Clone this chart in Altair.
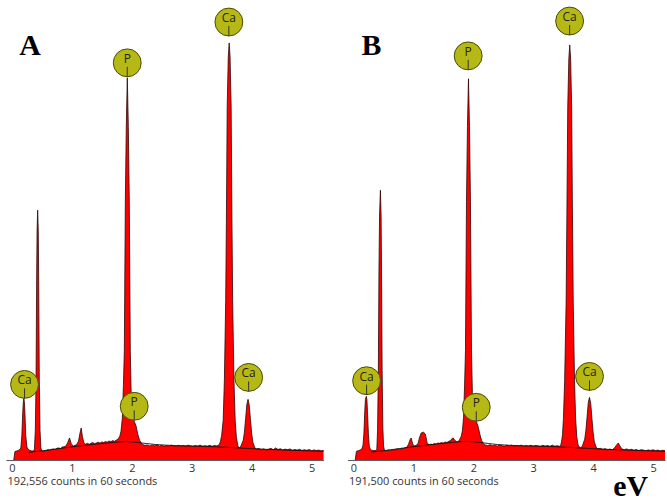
import altair as alt
import pandas as pd

# EDS spectra: (energy in keV, counts per channel)
spectrum_a = [
    (0.03, 0), (0.05, 85), (0.08, 92), (0.11, 98), (0.14, 110),
    (0.15, 130), (0.165, 250), (0.18, 480), (0.19, 590), (0.198, 620), (0.206, 590), (0.216, 480),
    (0.23, 250), (0.25, 130), (0.27, 108),
    (0.30, 96), (0.33, 92), (0.36, 90), (0.375, 110), (0.39, 300), (0.402, 800), (0.412, 1800),
    (0.419, 2300), (0.429, 2510), (0.439, 2300), (0.446, 1800), (0.456, 800), (0.468, 300),
    (0.483, 120), (0.50, 90), (0.52, 88),
    (0.54, 92), (0.57, 96), (0.60, 104), (0.63, 99), (0.66, 108), (0.69, 112), (0.72, 106),
    (0.75, 118), (0.78, 122), (0.81, 116), (0.84, 130), (0.87, 134), (0.90, 142), (0.93, 175),
    (0.96, 222), (0.99, 165), (1.02, 140), (1.05, 148), (1.08, 156), (1.11, 190), (1.135, 270),
    (1.155, 322), (1.175, 240), (1.20, 172), (1.23, 160), (1.26, 168), (1.29, 158), (1.32, 170),
    (1.35, 176), (1.38, 164), (1.41, 172), (1.44, 180), (1.47, 170), (1.50, 182), (1.53, 176),
    (1.56, 186), (1.59, 180), (1.62, 192), (1.65, 184), (1.68, 196), (1.71, 188), (1.74, 200),
    (1.77, 210), (1.80, 240), (1.82, 290), (1.842, 420), (1.86, 750), (1.875, 1090),
    (1.892, 2590), (1.908, 3350), (1.925, 3840), (1.942, 3350), (1.958, 2590), (1.975, 1090),
    (1.99, 650), (2.01, 450), (2.04, 390), (2.07, 345), (2.10, 260), (2.13, 200), (2.16, 168),
    (2.19, 155),
    (2.22, 148), (2.26, 152), (2.30, 142), (2.34, 150), (2.38, 144), (2.42, 154), (2.46, 140),
    (2.50, 148), (2.54, 138), (2.58, 146), (2.62, 140), (2.66, 150), (2.70, 142), (2.74, 136),
    (2.78, 148), (2.82, 140), (2.86, 146), (2.90, 138), (2.94, 150), (2.98, 142), (3.02, 136),
    (3.06, 146), (3.10, 140), (3.14, 150), (3.18, 138), (3.22, 144), (3.26, 140), (3.30, 148),
    (3.34, 138), (3.38, 146), (3.42, 142), (3.46, 155),
    (3.48, 190), (3.50, 250), (3.525, 400), (3.545, 800), (3.567, 1600), (3.58, 2500),
    (3.592, 3550), (3.61, 4050), (3.625, 4190), (3.64, 4050), (3.658, 3550), (3.67, 2500),
    (3.683, 1600), (3.705, 800), (3.725, 400), (3.745, 230), (3.77, 145), (3.79, 120),
    (3.82, 140), (3.86, 200), (3.88, 280), (3.90, 420), (3.92, 560), (3.94, 610), (3.96, 550),
    (3.98, 410), (4.00, 270), (4.02, 180), (4.05, 128), (4.08, 110),
    (4.12, 116), (4.16, 104), (4.20, 112), (4.24, 100), (4.28, 108), (4.32, 118), (4.36, 104),
    (4.40, 122), (4.44, 106), (4.48, 114), (4.52, 100), (4.56, 110), (4.60, 104), (4.64, 112),
    (4.68, 98), (4.72, 106), (4.76, 100), (4.80, 108), (4.84, 96), (4.88, 104), (4.92, 98),
    (4.96, 106), (5.00, 94), (5.04, 102), (5.08, 96), (5.12, 100), (5.16, 92), (5.20, 98),
]

spectrum_b = [
    (0.03, 0), (0.05, 88), (0.08, 94), (0.11, 100), (0.14, 112), (0.16, 150), (0.175, 270),
    (0.19, 500), (0.20, 610), (0.215, 640), (0.225, 610), (0.235, 480), (0.25, 260),
    (0.265, 140), (0.28, 110), (0.30, 100), (0.33, 96),
    (0.36, 94), (0.39, 104), (0.403, 300), (0.416, 900), (0.426, 1900), (0.436, 2450),
    (0.45, 2710), (0.462, 2450), (0.469, 1900), (0.479, 900), (0.491, 320), (0.503, 140),
    (0.517, 100), (0.53, 92),
    (0.56, 96), (0.59, 100), (0.62, 96), (0.65, 104), (0.68, 100), (0.71, 108), (0.74, 112),
    (0.77, 106), (0.80, 118), (0.83, 114), (0.86, 124), (0.89, 128), (0.92, 160), (0.945, 205),
    (0.964, 222), (0.99, 160), (1.02, 142), (1.05, 148), (1.08, 170), (1.10, 220), (1.13, 272),
    (1.17, 280), (1.20, 262), (1.23, 175), (1.26, 152), (1.29, 160), (1.32, 156), (1.35, 166),
    (1.38, 160), (1.41, 172), (1.44, 168), (1.47, 176), (1.50, 170), (1.53, 182), (1.56, 176),
    (1.59, 188), (1.62, 196), (1.645, 216), (1.665, 222), (1.69, 200), (1.72, 186), (1.745, 182),
    (1.77, 205), (1.80, 240), (1.82, 300), (1.838, 430), (1.855, 750), (1.87, 1100),
    (1.887, 2600), (1.903, 3350), (1.92, 3830), (1.937, 3350), (1.953, 2600), (1.97, 1100),
    (1.985, 680), (2.01, 470), (2.05, 390), (2.08, 340), (2.11, 260), (2.14, 195), (2.17, 165),
    (2.20, 152),
    (2.24, 146), (2.28, 154), (2.32, 144), (2.36, 150), (2.40, 140), (2.44, 152), (2.48, 144),
    (2.52, 138), (2.56, 148), (2.60, 142), (2.64, 150), (2.68, 138), (2.72, 146), (2.76, 140),
    (2.80, 150), (2.84, 136), (2.88, 144), (2.92, 140), (2.96, 148), (3.00, 138), (3.04, 146),
    (3.08, 142), (3.12, 136), (3.16, 148), (3.20, 140), (3.24, 146), (3.28, 138), (3.32, 150),
    (3.36, 140), (3.40, 144), (3.44, 138), (3.46, 150),
    (3.475, 190), (3.49, 260), (3.505, 420), (3.525, 800), (3.55, 1600), (3.563, 2500),
    (3.577, 3550), (3.595, 4030), (3.61, 4170), (3.625, 4030), (3.642, 3550), (3.655, 2500),
    (3.668, 1600), (3.69, 800), (3.708, 420), (3.728, 230), (3.75, 150), (3.785, 120),
    (3.82, 140), (3.86, 210), (3.88, 300), (3.90, 440), (3.92, 580), (3.94, 630), (3.96, 570),
    (3.98, 420), (4.00, 280), (4.02, 185), (4.05, 130), (4.08, 112),
    (4.12, 118), (4.16, 106), (4.20, 114), (4.24, 102), (4.28, 110), (4.32, 104), (4.36, 124),
    (4.39, 150), (4.42, 172), (4.45, 140), (4.48, 112), (4.52, 104), (4.56, 112), (4.60, 100),
    (4.64, 108), (4.68, 98), (4.72, 106), (4.76, 96), (4.80, 104), (4.84, 100), (4.88, 94),
    (4.92, 102), (4.96, 96), (5.00, 104), (5.04, 94), (5.08, 100), (5.12, 92), (5.16, 98), (5.20, 94),
]

# Fitted bremsstrahlung background
background_a = [
    (0.28, 78), (0.5, 92), (0.8, 116), (1.1, 140), (1.4, 160), (1.7, 178), (1.9, 186),
    (2.1, 176), (2.4, 156), (2.8, 144), (3.2, 138), (3.6, 128), (4.0, 114), (4.4, 104),
    (4.8, 95), (5.2, 88),
]
background_b = [
    (0.30, 80), (0.5, 94), (0.8, 118), (1.1, 142), (1.4, 162), (1.7, 180), (1.9, 188),
    (2.1, 178), (2.4, 156), (2.8, 144), (3.2, 138), (3.6, 128), (4.0, 114), (4.4, 104),
    (4.8, 95), (5.2, 88),
]

# Element markers: label, energy (keV), count level of the marker's lower edge
marker_elements = ["Ca", "P", "Ca", "P", "Ca"]
marker_energy_a = [0.21, 1.924, 3.62, 2.04, 3.95]
marker_counts_a = [620, 3850, 4260, 400, 690]
marker_energy_b = [0.22, 1.915, 3.608, 2.05, 3.94]
marker_counts_b = [657, 3920, 4270, 390, 700]

panel_letters = ["A", "B"]
count_captions = ["192,556 counts in 60 seconds", "191,500 counts in 60 seconds"]
tick_values = [0, 1, 2, 3, 4, 5]

X_DOMAIN = [-0.1, 5.2]
Y_DOMAIN = [0, 4500]
SANS = "Open Sans"
SERIF = "Liberation Serif"


def panel(spectrum, background, m_energy, m_counts, letter, caption, unit=False):
    spec = pd.DataFrame(spectrum, columns=["energy", "counts"])
    bg = pd.DataFrame(background, columns=["energy", "counts"])
    markers = pd.DataFrame({"element": marker_elements, "energy": m_energy, "counts": m_counts})

    xs = alt.Scale(domain=X_DOMAIN, nice=False, zero=False)
    ys = alt.Scale(domain=Y_DOMAIN, nice=False)
    x_axis = alt.Axis(
        values=tick_values, format="d", grid=False, ticks=False, tickSize=0,
        domainColor="#555555", domainWidth=1,
        labelFont=SANS, labelFontSize=11, labelColor="#333333", labelPadding=2,
        title=caption, titleFont=SANS, titleFontSize=11, titleFontWeight="normal",
        titleColor="#333333", titleAnchor="start", titleAlign="left",
        titleBaseline="middle", titleX=1, titleY=22,
    )
    x = alt.X("energy:Q", scale=xs)
    y = alt.Y("counts:Q", scale=ys, axis=None)

    area = alt.Chart(spec).mark_area(color="#ff0000", interpolate="linear").encode(
        x=alt.X("energy:Q", scale=xs, axis=x_axis), y=y
    )
    outline = alt.Chart(spec).mark_line(color="#2a0505", strokeWidth=0.8).encode(x=x, y=y)
    bg_line = alt.Chart(bg).mark_line(color="#111111", strokeWidth=0.9, interpolate="monotone").encode(x=x, y=y)

    circles = alt.Chart(markers).mark_point(
        shape="circle", filled=True, size=784, fill="#b6b915", fillOpacity=1,
        stroke="#4a4a00", strokeWidth=1, yOffset=-14,
    ).encode(x=x, y=y)
    stems = alt.Chart(markers).mark_rule(color="#333333", strokeWidth=1, yOffset=-10, y2Offset=0).encode(
        x=x, y=y, y2="counts:Q"
    )
    names = alt.Chart(markers).mark_text(
        font=SANS, fontSize=12, color="#222222", baseline="middle", align="center", yOffset=-18
    ).encode(x=x, y=y, text="element:N")

    notes = [{"energy": 0.30, "counts": 4070, "text": letter}]
    if unit:
        notes.append({"energy": 4.625, "counts": -360, "text": "eV"})
    note_df = pd.DataFrame(notes)
    note_text = alt.Chart(note_df).mark_text(
        font=SERIF, fontSize=30, fontWeight="bold", color="#000000",
        baseline="alphabetic", align="center",
    ).encode(x=x, y=y, text="text:N")

    return alt.layer(area, outline, bg_line, circles, stems, names, note_text).properties(
        width=319, height=450
    )


left = panel(spectrum_a, background_a, marker_energy_a, marker_counts_a, panel_letters[0], count_captions[0])
right = panel(spectrum_b, background_b, marker_energy_b, marker_counts_b, panel_letters[1], count_captions[1], unit=True)

chart = alt.hconcat(left, right, spacing=22).properties(
    padding={"left": 6, "top": 4, "right": 0, "bottom": 0},
    background="#ffffff",
).configure_view(stroke=None)

chart.save("out.html", embed_options={"renderer": "svg", "actions": False})
